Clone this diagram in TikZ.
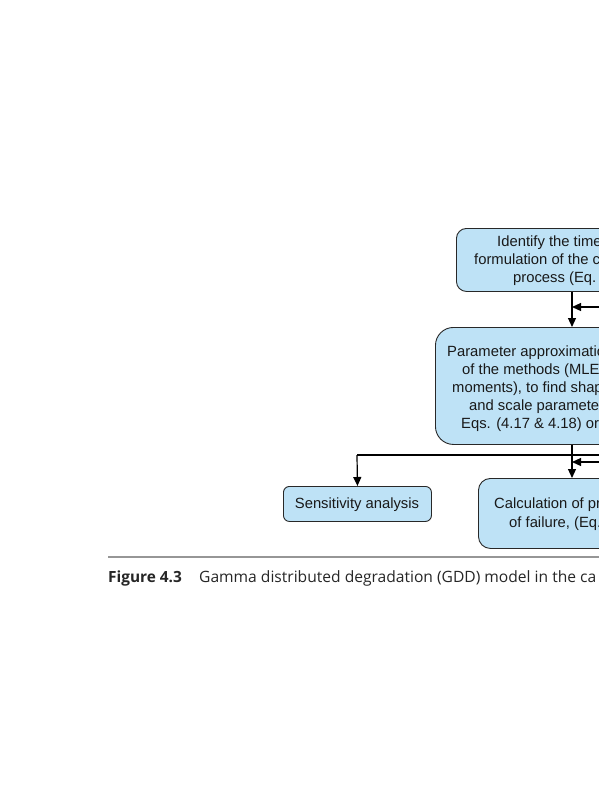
\documentclass[tikz,border=0pt]{standalone}
\usepackage{fontspec}
\setmainfont{Liberation Sans}
\newfontfamily\capfont{Open Sans}
\usetikzlibrary{arrows.meta}
\definecolor{boxblue}{RGB}{190,226,246}
\definecolor{boxline}{RGB}{40,40,40}
\definecolor{rulegray}{RGB}{150,150,150}
\tikzset{
  flowbox/.style={draw=boxline, line width=0.9pt, fill=boxblue, inner sep=0pt, anchor=north west},
  boxtext/.style={anchor=base west, inner sep=0pt, font=\fontsize{14.8}{18}\selectfont, text=black!90},
  conn/.style={line width=1.2pt, draw=black},
  arr/.style={conn, -{Triangle[length=9pt,width=8pt]}},
  captext/.style={anchor=base west, inner sep=0pt, font=\capfont\fontsize{15.6}{18}\selectfont, text=black!85},
}
\begin{document}
\begin{tikzpicture}[x=1pt,y=-1pt]
\useasboundingbox (0,0) rectangle (599,800);
\fill[white] (0,0) rectangle (599,800);
\clip (0,0) rectangle (599,800);
% boxes
\node[flowbox, rounded corners=10pt, minimum width=300pt, minimum height=63pt] (box1) at (456,228) {};
\node[flowbox, rounded corners=18pt, minimum width=300pt, minimum height=117pt] (box2) at (435,327) {};
\node[flowbox, rounded corners=6pt, minimum width=148pt, minimum height=35pt] (sens) at (283,486) {};
\node[flowbox, rounded corners=12pt, minimum width=300pt, minimum height=70pt] (box3) at (478,478) {};
% texts
\node[boxtext] (t11) at (497,246.5) {Identify the time};
\node[boxtext] (t12) at (474,264.5) {formulation of the c};
\node[boxtext] (t13) at (513,282.5) {process (Eq.};
\node[boxtext] (t21) at (447,356) {Parameter approximatio};
\node[boxtext] (t22) at (462,374) {of the methods (MLE};
\node[boxtext] (t23) at (452,392) {moments), to find shap};
\node[boxtext] (t24) at (469,410) {and scale paramete};
\node[boxtext] (t25) at (461,428) {Eqs. (4.17 \& 4.18) or};
\node[boxtext, anchor=base] (ts) at (357,508) {Sensitivity analysis};
\node[boxtext] (t31) at (494,508) {Calculation of pr};
\node[boxtext] (t32) at (509,527) {of failure, (Eq.};
% connectors
\coordinate (spine) at (572,0);
\coordinate (r1) at (610,307);
\coordinate (r2) at (610,462);
\coordinate (r3) at (610,455);
\coordinate (sensx) at (357,455);
\draw[arr] (box1.south -| spine) -- (box2.north -| spine);
\draw[arr] (r1) -- (r1 -| spine);
\draw[arr] (box2.south -| spine) -- (box3.north -| spine);
\draw[arr] (r2) -- (r2 -| spine);
\draw[conn] (r3) -- (sensx);
\draw[arr] (sensx) -- (sens.north);
% rule and caption
\coordinate (ruleL) at (108,557);
\coordinate (ruleR) at (610,557);
\draw[rulegray, line width=2pt] (ruleL) -- (ruleR);
\node[captext, font=\capfont\bfseries\fontsize{15.4}{18}\selectfont] (cap1) at (108,582) {Figure 4.3};
\node[captext] (cap2) at (199,582) {Gamma distributed degradation (GDD) model in the ca};
\end{tikzpicture}
\end{document}
